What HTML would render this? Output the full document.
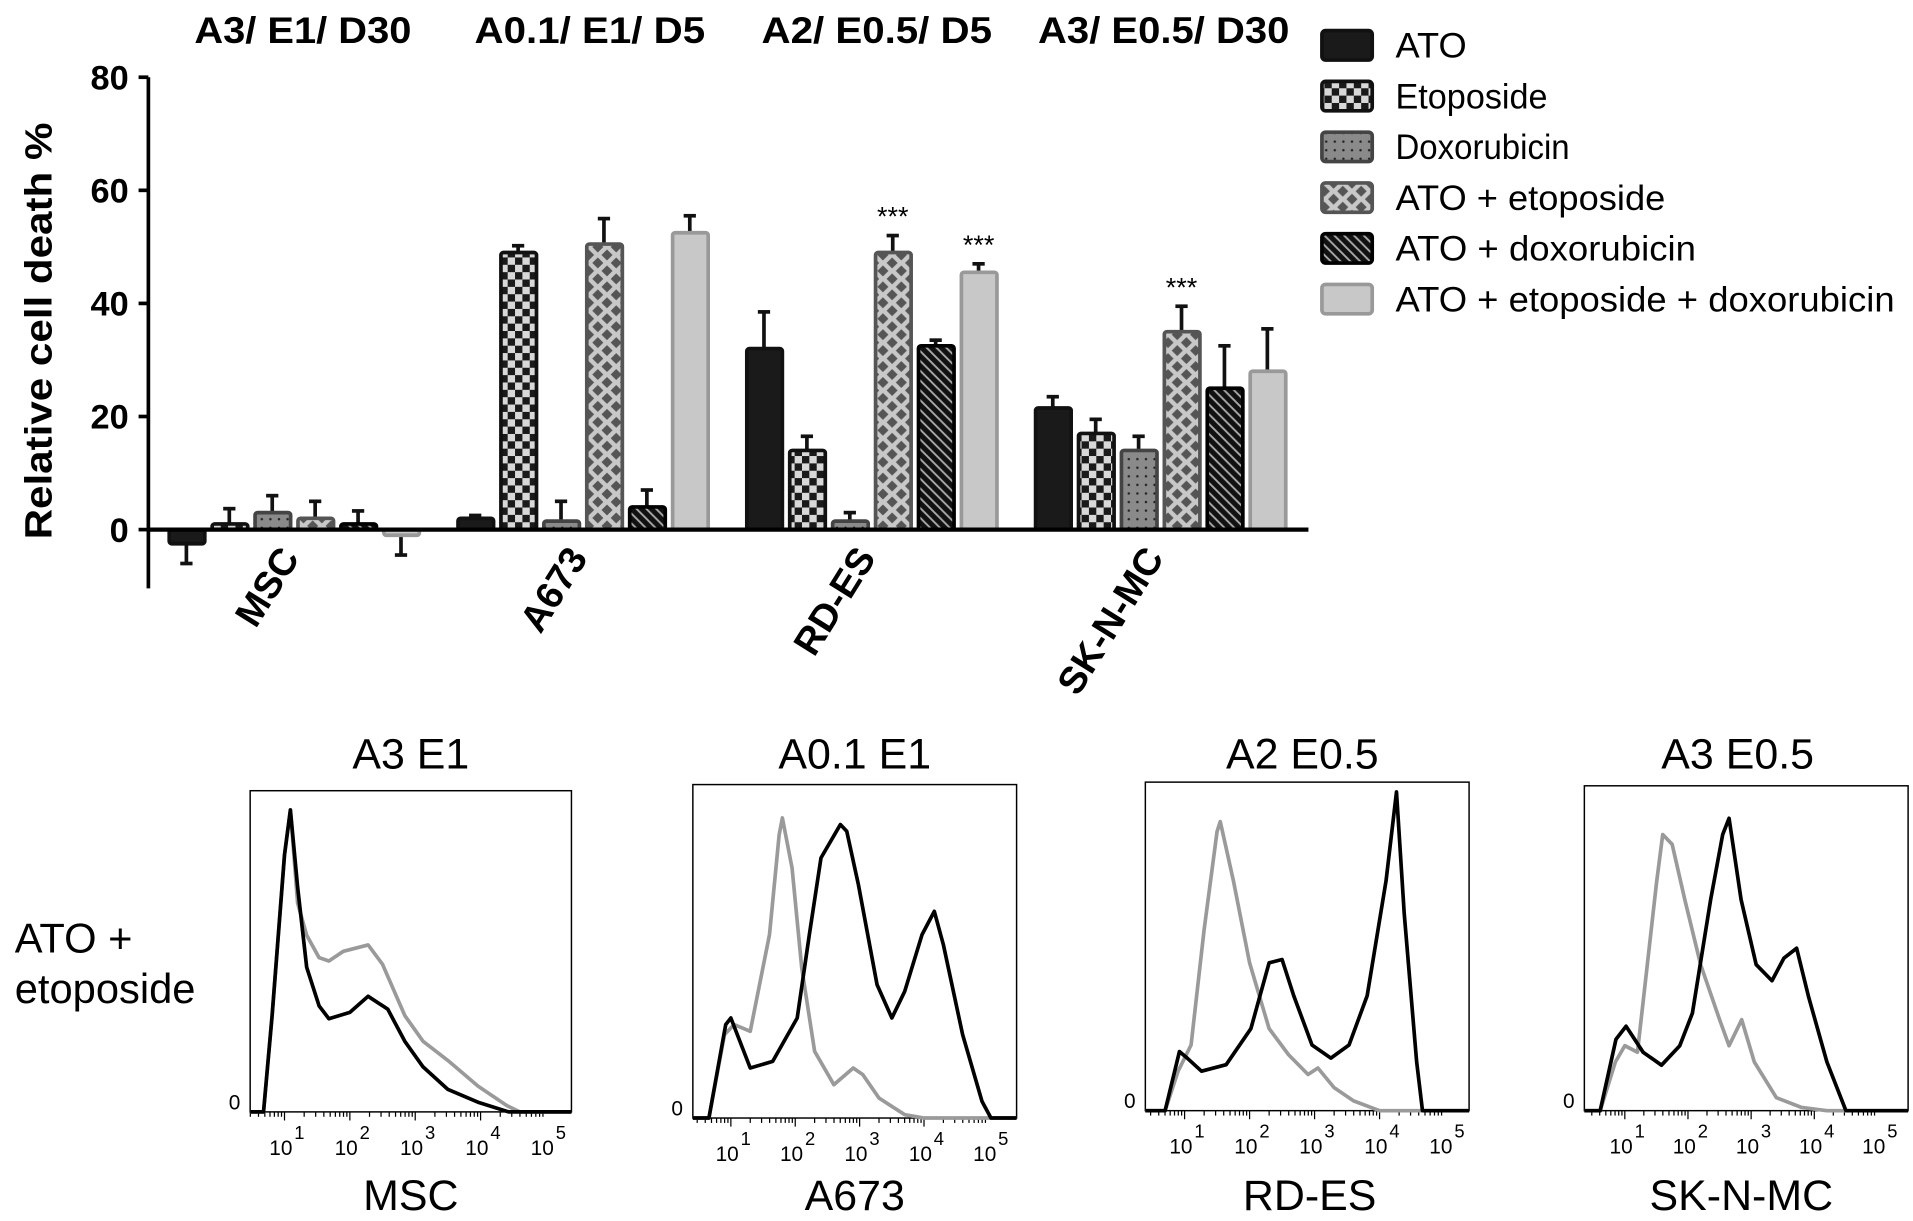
<!DOCTYPE html>
<html><head><meta charset="utf-8"><style>
html,body{margin:0;padding:0;background:#fff;}
svg{display:block;font-family:"Liberation Sans",Arial,sans-serif;}
</style></head><body>
<svg id="fig" width="1913" height="1221" viewBox="0 0 1560 996" preserveAspectRatio="none" xmlns="http://www.w3.org/2000/svg">
<defs>
<pattern id="pChk" width="12" height="12" patternUnits="userSpaceOnUse">
<rect width="12" height="12" fill="#1a1a1a"/><rect width="6" height="6" fill="#d8d8d8"/><rect x="6" y="6" width="6" height="6" fill="#d8d8d8"/></pattern>
<pattern id="pDot" width="7" height="7" patternUnits="userSpaceOnUse">
<rect width="7" height="7" fill="#8a8a8a"/><circle cx="3.5" cy="3.5" r="1" fill="#222"/></pattern>
<pattern id="pDia" width="15" height="13" patternUnits="userSpaceOnUse">
<rect width="15" height="13" fill="#c8c8c8"/><path d="M7.5 2 L12 6.5 L7.5 11 L3 6.5Z" fill="#555"/><path d="M0 -4.5 L4.5 0 L0 4.5Z M15 -4.5 L10.5 0 L15 4.5Z M0 8.5 L4.5 13 L0 17.5Z M15 8.5 L10.5 13 L15 17.5Z" fill="#555"/></pattern>
<pattern id="pStr" width="8" height="8" patternUnits="userSpaceOnUse">
<rect width="8" height="8" fill="#111"/><path d="M-2 -2 L10 10 M-2 6 L2 10 M6 -2 L10 2" stroke="#aaa" stroke-width="1.5"/></pattern>
</defs>
<g id="bars"></g>
<g id="hist"></g>
</svg>
<script>
const NS="http://www.w3.org/2000/svg";
const groups=["MSC","A673","RD-ES","SK-N-MC"];
const groupTitles=["A3/ E1/ D30","A0.1/ E1/ D5","A2/ E0.5/ D5","A3/ E0.5/ D30"];
const seriesNames=["ATO","Etoposide","Doxorubicin","ATO + etoposide","ATO + doxorubicin","ATO + etoposide + doxorubicin"];
const valATO=[-2.5,2,32,21.5];
const valEto=[1,49,14,17];
const valDox=[3,1.5,1.5,14];
const valAE=[2,50.5,49,35];
const valAD=[1,4,32.5,25];
const valAED=[-1,52.5,45.5,28];
const errATO=[3.5,0.5,6.5,2];
const errEto=[2.7,1.2,2.5,2.5];
const errDox=[3,3.5,1.5,2.5];
const errAE=[3,4.5,3,4.5];
const errAD=[2.3,3,1,7.5];
const errAED=[3.5,3,1.5,7.5];
const stars=[[],[],[3,5],[3]];
const yTicks=[0,20,40,60,80];

const fills=["#1a1a1a","url(#pChk)","url(#pDot)","url(#pDia)","url(#pStr)","#c8c8c8"];
const strokes=["#111","#111","#444","#555","#000","#999"];
const vals=[valATO,valEto,valDox,valAE,valAD,valAED];
const errs=[errATO,errEto,errDox,errAE,errAD,errAED];

function el(tag,attrs,parent,text){const e=document.createElementNS(NS,tag);for(const k in attrs)e.setAttribute(k,attrs[k]);if(text!==undefined)e.textContent=text;parent.appendChild(e);return e;}
const y=v=>432-v*(369/80);
const gx=(g,s)=>152+g*235.5+s*35;
const B=document.getElementById('bars');

let ax=el('line',{x1:121,y1:y(80),x2:121,y2:480,stroke:'#000','stroke-width':3},B);


yTicks.forEach(t=>{
  let l=el('line',{x1:113,x2:121,y1:y(t),y2:y(t),stroke:'#000','stroke-width':3},B);
  
  
  let tx=el('text',{x:105,y:y(t)+10,'text-anchor':'end','font-size':28,'font-weight':'bold'},B,String(t));
  
  
});
let yt=el('text',{transform:'translate(42,270) rotate(-90)','text-anchor':'middle','font-size':31,'font-weight':'bold',textLength:340,lengthAdjust:'spacingAndGlyphs'},B,'Relative cell death %');



const titleW=[177,188,188,205];
groups.forEach((g,gi)=>{
  let t=el('text',{x:247+gi*234,y:35,'text-anchor':'middle','font-size':30,'font-weight':'bold',textLength:titleW[gi],lengthAdjust:'spacingAndGlyphs'},B,groupTitles[gi]);
  
  
  vals.forEach((arr,si)=>{
    const v=arr[gi],e=errs[si][gi],cx=gx(gi,si);
    const top=Math.min(y(v),y(0)),h=Math.abs(y(v)-y(0));
    const endV=v>=0?v+e:v-e;
    let eb=el('line',{x1:cx,x2:cx,y1:y(v),y2:y(endV),stroke:'#111','stroke-width':3},B);
    
    
    let cap=el('line',{x1:cx-5,x2:cx+5,y1:y(endV),y2:y(endV),stroke:'#111','stroke-width':3},B);
    
    
    let r=el('rect',{x:cx-14,y:top,width:29,height:Math.max(h,1),fill:fills[si],stroke:strokes[si],'stroke-width':3,rx:2},B);
    
    
  });
  stars[gi].forEach(si=>{
    const v=vals[si][gi]+errs[si][gi];
    let s=el('text',{x:gx(gi,si),y:y(v)-8,'text-anchor':'middle','font-size':22},B,'***');
    
    
  });
  const lx=[245,480,715,950][gi];
  let cl=el('text',{transform:`translate(${lx},${455}) rotate(-58)`,'text-anchor':'end','font-size':31,'font-weight':'bold'},B,g);
  
  
});
let base=el('line',{x1:121,x2:1067,y1:y(0),y2:y(0),stroke:'#000','stroke-width':3.5},B);



const legW=[58,124,142,220,245,407];
seriesNames.forEach((n,i)=>{
  const cy=37+i*41.4;
  let r=el('rect',{x:1078,y:cy-12,width:41,height:24,fill:fills[i],stroke:strokes[i],'stroke-width':3,rx:3},B);
  
  
  let t=el('text',{x:1138,y:cy+10,'font-size':29,textLength:legW[i],lengthAdjust:'spacingAndGlyphs'},B,n);
  
  
});

const histTitles=["A3 E1","A0.1 E1","A2 E0.5","A3 E0.5"];
const histLabels=["MSC","A673","RD-ES","SK-N-MC"];
const mscBlackX=[0.68,0.81,1.0,1.09,1.2,1.34,1.53,1.68,2.0,2.28,2.58,2.84,3.12,3.5,3.96,4.43];
const mscBlackY=[0,30,80,94,70,45,33,29,31,36,32,22,14,7,3,0];
const mscGrayX=[0.68,0.81,1.0,1.09,1.2,1.34,1.53,1.68,1.9,2.28,2.5,2.84,3.12,3.5,3.96,4.4,4.6];
const mscGrayY=[0,30,80,94,65,55,48,47,50,52,46,30,22,16,8,2,0];
const a673BlackX=[0.66,0.92,1.0,1.3,1.65,2.03,2.22,2.4,2.7,2.8,2.98,3.27,3.5,3.7,3.97,4.16,4.3,4.6,4.9,5.04];
const a673BlackY=[0,28,30,15,17,30,55,78,88,86,70,40,30,38,55,62,52,25,5,0];
const a673GrayX=[0.66,0.9,1.05,1.3,1.6,1.75,1.8,1.95,2.1,2.3,2.6,2.9,3.05,3.3,3.7,4.0];
const a673GrayY=[0,25,28,26,55,85,90,75,45,20,10,15,13,6,1,0];
const rdesBlackX=[0.7,0.92,1.04,1.26,1.64,2.02,2.3,2.5,2.68,2.96,3.25,3.53,3.81,4.1,4.26,4.38,4.57,4.66];
const rdesBlackY=[0,18,16,12,14,25,45,46,35,20,16,20,35,70,97,60,15,0];
const rdesGrayX=[0.7,0.9,1.1,1.3,1.5,1.55,1.75,2.0,2.3,2.6,2.9,3.05,3.3,3.6,4.0];
const rdesGrayY=[0,12,20,55,85,88,70,45,25,17,11,13,7,3,0];
const sknBlackX=[0.61,0.86,1.02,1.29,1.58,1.87,2.07,2.36,2.55,2.65,2.84,3.08,3.33,3.52,3.72,3.91,4.2,4.5];
const sknBlackY=[0,22,26,18,14,20,30,65,85,90,65,45,40,47,50,35,15,0];
const sknGrayX=[0.61,0.85,1.0,1.2,1.5,1.6,1.75,1.95,2.2,2.5,2.65,2.85,3.05,3.4,3.8,4.2];
const sknGrayY=[0,15,20,18,70,85,82,65,45,28,20,28,15,4,1,0];
const series=[[mscGrayX,mscGrayY,mscBlackX,mscBlackY],[a673GrayX,a673GrayY,a673BlackX,a673BlackY],[rdesGrayX,rdesGrayY,rdesBlackX,rdesBlackY],[sknGrayX,sknGrayY,sknBlackX,sknBlackY]];
const decades=[1,2,3,4,5];
const boxes=[[204,466,645,907,232,53.3],[565,829,640,912,596,52.5],[934,1198,638,906,966,53],[1292,1556,641,906,1325,51.5]];
const titleX=[335,697,1062,1417];
const labelX=[335,697,1068,1420];
const H=document.getElementById('hist');
let a1=el('text',{x:12,y:777,'font-size':34},H,'ATO +');


let a2=el('text',{x:12,y:818,'font-size':34},H,'etoposide');


boxes.forEach((b,i)=>{
  const [L,R,T,Bt,x1,d]=b;
  const X=l=>x1+(l-1)*d, Y=p=>Bt-p/100*(Bt-T);
  let tt=el('text',{x:titleX[i],y:627,'text-anchor':'middle','font-size':35},H,histTitles[i]);
  
  
  let bl=el('text',{x:labelX[i],y:987,'text-anchor':'middle','font-size':35},H,histLabels[i]);
  
  
  let bx=el('rect',{x:L,y:T,width:R-L,height:Bt-T,fill:'none',stroke:'#000','stroke-width':1.2},H);
  
  
  let z=el('text',{x:L-8,y:Bt-2,'text-anchor':'end','font-size':17},H,'0');
  
  
  for(let k=0;k<5;k++)for(let m=1;m<10;m++){
    const l=k+Math.log10(m), xx=X(l);
    if(xx<L||xx>R)continue;
    let tk=el('line',{x1:xx,x2:xx,y1:Bt,y2:Bt+(m==1?7:4),stroke:'#000','stroke-width':1},H);
    
    
  }
  decades.forEach(dd=>{
    let t=el('text',{x:X(dd)-3,y:Bt+35,'text-anchor':'middle','font-size':17},H,'10');
    
    
    let s=el('text',{x:X(dd)+8,y:Bt+22,'font-size':15},H,String(dd));
    
    
  });
  const [gX,gY,kX,kY]=series[i];
  const path=(xs,ys)=>{let p=`M${L} ${Bt}`;xs.forEach((v,j)=>p+=` L${X(v).toFixed(1)} ${Y(ys[j]).toFixed(1)}`);return p+` L${R} ${Bt}`;};
  let g=el('path',{d:path(gX,gY),fill:'none',stroke:'#9a9a9a','stroke-width':3,'stroke-linejoin':'round'},H);
  
  
  let k=el('path',{d:path(kX,kY),fill:'none',stroke:'#000','stroke-width':3,'stroke-linejoin':'round'},H);
  
  
});
</script>
</body></html>
